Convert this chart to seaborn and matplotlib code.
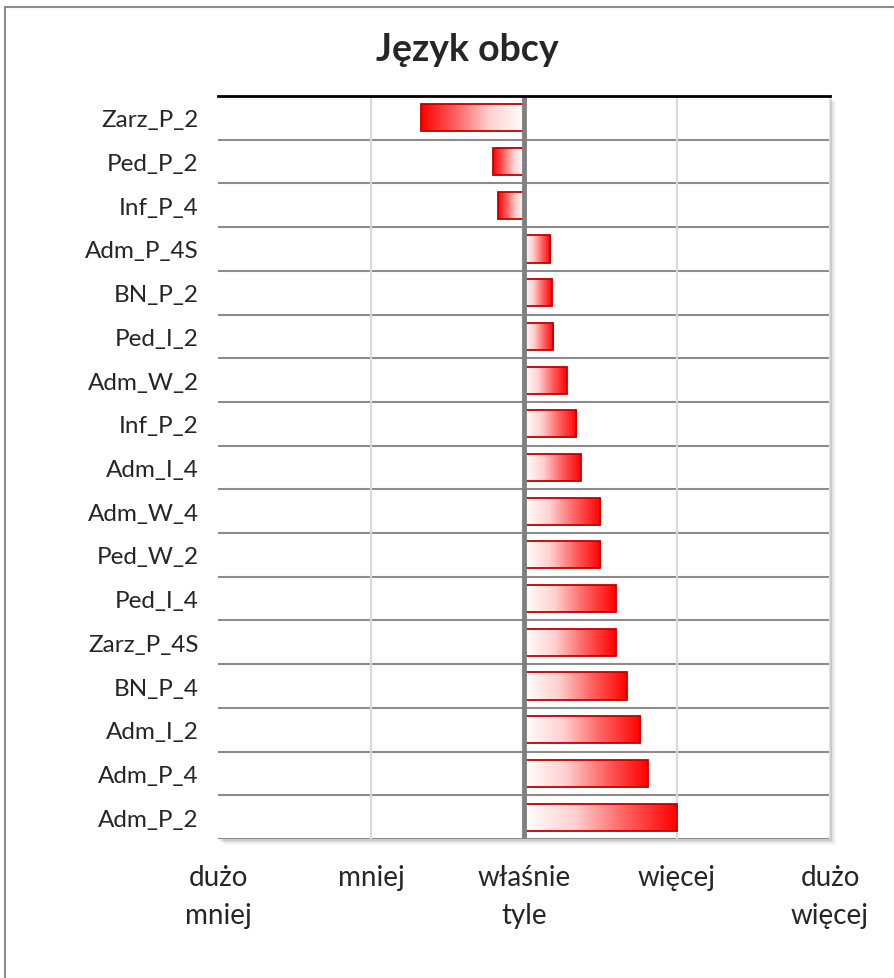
import matplotlib
matplotlib.use('Agg')
import matplotlib.pyplot as plt
import seaborn as sns
import numpy as np
from matplotlib.colors import LinearSegmentedColormap
from matplotlib.patches import Rectangle

categories = ['Zarz_P_2', 'Ped_P_2', 'Inf_P_4', 'Adm_P_4S', 'BN_P_2', 'Ped_I_2',
              'Adm_W_2', 'Inf_P_2', 'Adm_I_4', 'Adm_W_4', 'Ped_W_2', 'Ped_I_4',
              'Zarz_P_4S', 'BN_P_4', 'Adm_I_2', 'Adm_P_4', 'Adm_P_2']
values = [-0.67, -0.20, -0.17, 0.17, 0.18, 0.19, 0.28, 0.34, 0.37, 0.50, 0.50,
          0.60, 0.60, 0.67, 0.76, 0.81, 1.00]
tick_pos = [-2, -1, 0, 1, 2]
tick_labels = ['dużo\nmniej', 'mniej', 'właśnie\ntyle', 'więcej', 'dużo\nwięcej']
title = 'Język obcy'

sns.set_style('white')
plt.rcParams['font.family'] = ['Lato', 'DejaVu Sans']

fig = plt.figure(figsize=(8.95, 9.79), dpi=100)
W, H = 895, 979
ax = fig.add_axes([218 / W, 1 - 840 / H, (830 - 218) / W, (840 - 97) / H])
ax.set_zorder(2)

# outer chart frame (cut at right/bottom edges)
fig.patches.append(Rectangle((5 / W, -0.1), 2, (H - 8) / H + 0.1, transform=fig.transFigure,
                             fill=False, edgecolor='#8c8c8c', linewidth=1.5, zorder=0))
# plot area shadow
for i, a in enumerate([0.10, 0.07, 0.04]):
    off = (i + 1) * 2
    fig.patches.append(Rectangle(((218 + off) / W, 1 - (840 + off) / H), (830 - 218) / W,
                                 (840 - 97) / H, transform=fig.transFigure,
                                 facecolor='black', alpha=a, edgecolor='none', zorder=1))

sns.barplot(x=values, y=categories, orient='h', ax=ax, width=0.62,
            color='white', edgecolor='#c00000', linewidth=1.3, zorder=3)

cmap = LinearSegmentedColormap.from_list('redgrad', ['#ffffff', '#ffd0d0', '#ff6060', '#ff0000'])
grad = np.linspace(0, 1, 256).reshape(1, -1)
for p in ax.patches:
    x0, y0 = p.get_x(), p.get_y()
    w, h = p.get_width(), p.get_height()
    img = grad if w >= 0 else grad[:, ::-1]
    xl, xr = min(x0, x0 + w), max(x0, x0 + w)
    im = ax.imshow(img, cmap=cmap, aspect='auto', extent=[xl, xr, y0 + h, y0],
                   zorder=2.5, interpolation='bilinear')
    im.set_clip_path(p)
    p.set_facecolor('none')

ax.set_xlim(-2, 2)
ax.set_ylim(len(categories) - 0.5, -0.5)
ax.set_facecolor('white')

for k in range(len(categories) + 1):
    ax.axhline(k - 0.5, color='#8c8c8c', linewidth=1.5, zorder=1)
for xv in [-1, 1]:
    ax.axvline(xv, color='#d9d9d9', linewidth=1.5, zorder=1)
ax.axvline(0, color='#808080', linewidth=3.5, zorder=4)

for s in ['left', 'right', 'bottom']:
    ax.spines[s].set_visible(False)
ax.spines['top'].set_color('black')
ax.spines['top'].set_linewidth(2)
ax.spines['top'].set_zorder(5)
ax.axvline(2, color='#e6e6e6', linewidth=1.5, zorder=1)

ax.set_xticks(tick_pos)
ax.set_xticklabels(tick_labels, fontsize=20, linespacing=1.55)
ax.tick_params(axis='x', length=0, pad=18)
ax.tick_params(axis='y', length=0, pad=14, labelsize=17.5)
for lbl in ax.get_xticklabels():
    lbl.set_verticalalignment('top')
ax.set_xlabel('')
ax.set_ylabel('')

fig.text(467 / W, 1 - 50 / H, title, ha='center', va='center', fontsize=27, fontweight='bold')

fig.savefig('out.png', dpi=100)
